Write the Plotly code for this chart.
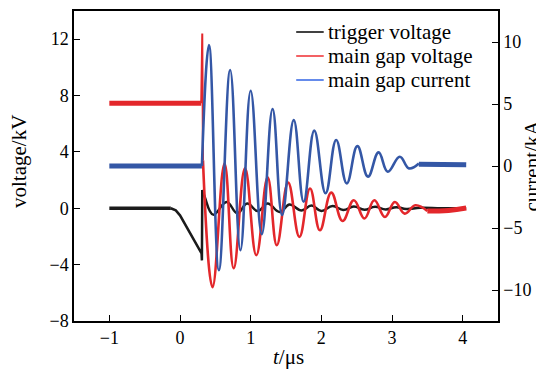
import plotly.graph_objects as go

# ---- data (t in microseconds) ----
# trigger voltage (kV)
trig_flat_t = [-1.0, -0.13]
trig_flat_v = [0.0, 0.0]
trig_ramp_t = [-0.13, -0.06, 0.0, 0.1, 0.2, 0.29, 0.305, 0.31, 0.315]
trig_ramp_v = [0.0, -0.15, -0.5, -1.4, -2.3, -3.05, -3.2, -3.7, 1.3]
trig_osc_t = [0.315, 0.35, 0.47, 0.66, 0.81, 0.95, 1.10, 1.24, 1.41, 1.55, 1.72, 1.86,
              2.00, 2.16, 2.31, 2.46, 2.61, 2.76, 2.91, 3.06, 3.20, 3.40, 3.70, 4.05]
trig_osc_v = [1.3, 0.8, -0.45, 0.45, -0.35, 0.33, -0.2, 0.33, -0.26, 0.26, -0.15, 0.19,
              -0.19, 0.16, -0.12, 0.12, -0.1, 0.1, -0.08, 0.08, -0.05, 0.03, 0.0, 0.0]

# main gap voltage (kV)
gapv_flat_t = [-1.0, 0.30]
gapv_flat_v = [7.45, 7.45]
gapv_spike_t = [0.30, 0.315, 0.325]
gapv_spike_v = [7.45, 12.4, 3.4]
gapv_osc_t = [0.325, 0.46, 0.63, 0.76, 0.92, 1.08, 1.24, 1.37, 1.53, 1.69, 1.84, 1.98,
              2.14, 2.30, 2.46, 2.61, 2.75, 2.90, 3.04, 3.18, 3.33, 3.50]
gapv_osc_v = [3.4, -5.6, 3.17, -4.26, 2.84, -3.33, 2.2, -2.62, 1.82, -2.03, 1.40, -1.56,
              1.11, -0.9, 0.57, -0.73, 0.57, -0.62, 0.45, -0.38, 0.21, -0.2]
gapv_tail_t = [3.50, 3.80, 4.05]
gapv_tail_v = [-0.2, -0.15, 0.02]

# main gap current (kA)
gapi_flat_t = [-1.0, 0.31]
gapi_flat_v = [0.0, 0.0]
gapi_osc_t = [0.31, 0.41, 0.55, 0.71, 0.855, 1.0, 1.157, 1.31, 1.445, 1.61, 1.75, 1.90,
              2.06, 2.21, 2.36, 2.51, 2.66, 2.81, 2.94, 3.11, 3.24, 3.38]
gapi_osc_v = [0.0, 9.76, -8.4, 7.74, -6.8, 6.07, -5.5, 4.6, -3.95, 3.7, -2.88, 2.85,
              -2.2, 2.1, -1.4, 1.6, -0.86, 1.1, -0.46, 0.75, -0.19, 0.2]
gapi_tail_t = [3.38, 4.05]
gapi_tail_v = [0.15, 0.1]

x_ticks = [-1, 0, 1, 2, 3, 4]
v_ticks = [-8, -4, 0, 4, 8, 12]
i_ticks = [-10, -5, 0, 5, 10]

legend_names = ["trigger voltage", "main gap voltage", "main gap current"]

BLACK = "#1b1b1b"
RED = "#e3272b"
BLUE = "#3457a6"
LEG_COLORS = ["#111111", "#f0393d", "#3f6fe6"]
FONT = "Liberation Serif"

fig = go.Figure()

def add(x, y, color, width, shape="linear", yaxis="y"):
    fig.add_trace(go.Scatter(
        x=x, y=y, mode="lines", showlegend=False,
        line=dict(color=color, width=width, shape=shape, smoothing=1.2), yaxis=yaxis,
        hoverinfo="skip"))

add(trig_flat_t, trig_flat_v, BLACK, 3.5)
add(trig_ramp_t, trig_ramp_v, BLACK, 2.5)
add(trig_osc_t, trig_osc_v, BLACK, 2.5, "spline")

add(gapv_flat_t, gapv_flat_v, RED, 5)
add(gapv_spike_t, gapv_spike_v, RED, 2)
add(gapv_osc_t, gapv_osc_v, RED, 2.6, "spline")
add(gapv_tail_t, gapv_tail_v, RED, 5, "spline")

add(gapi_flat_t, gapi_flat_v, BLUE, 5, yaxis="y2")
add(gapi_osc_t, gapi_osc_v, BLUE, 2.6, "spline", "y2")
add(gapi_tail_t, gapi_tail_v, BLUE, 5, yaxis="y2")

axis_common = dict(showline=True, linecolor="black", linewidth=1.5, ticks="inside",
                   ticklen=6, tickwidth=1.3, tickcolor="black", showgrid=False,
                   zeroline=False, automargin=False,
                   tickfont=dict(family=FONT, size=18, color="black"))

# the page body adds an 8 px offset; plot box targeted at x 74..490, y 11..321
OFF = 8
PW, PH = 416.0, 310.0
shapes = []
annots = []
for k, (nm, col) in enumerate(zip(legend_names, LEG_COLORS)):
    ypx = 32 + 24 * k           # row centre, px from top of window
    yp = (321 - ypx) / PH
    shapes.append(dict(type="line", xref="paper", yref="paper",
                       x0=(292 - 74) / PW, x1=(319 - 74) / PW, y0=yp, y1=yp,
                       line=dict(color=col, width=1.6)))
    annots.append(dict(text=nm, xref="paper", yref="paper", x=(321 - 74) / PW, y=yp,
                       xanchor="left", yanchor="middle", showarrow=False,
                       font=dict(family=FONT, size=21, color="black")))

annots += [
    dict(text="voltage/kV", xref="paper", yref="paper", x=(20 - 74) / PW, y=0.516,
         xanchor="center", yanchor="middle",
         textangle=-90, showarrow=False, font=dict(family=FONT, size=21)),
    dict(text="<i>t</i>/μs", xref="paper", yref="paper", x=(284 - 74) / PW,
         y=(321 - 357) / PH, xanchor="center", yanchor="middle",
         showarrow=False, font=dict(family=FONT, size=21)),
]

fig.update_layout(
    width=544 - OFF, height=371 - OFF,
    margin=dict(l=74 - OFF, r=54 - OFF, t=11 - OFF, b=50, autoexpand=False),
    paper_bgcolor="white", plot_bgcolor="white",
    font=dict(family=FONT, color="black"),
    xaxis=dict(range=[-1.5, 4.5], tickvals=x_ticks, mirror=True, **axis_common),
    yaxis=dict(range=[-8, 14], tickvals=v_ticks, mirror=True, **axis_common),
    yaxis2=dict(range=[-12.5, 12.5], tickvals=i_ticks, overlaying="y", side="right",
                title=dict(text="current/kA", font=dict(family=FONT, size=21),
                           standoff=8),
                **axis_common),
    showlegend=False,
    shapes=shapes,
    annotations=annots,
)

fig.write_html("out.html")
